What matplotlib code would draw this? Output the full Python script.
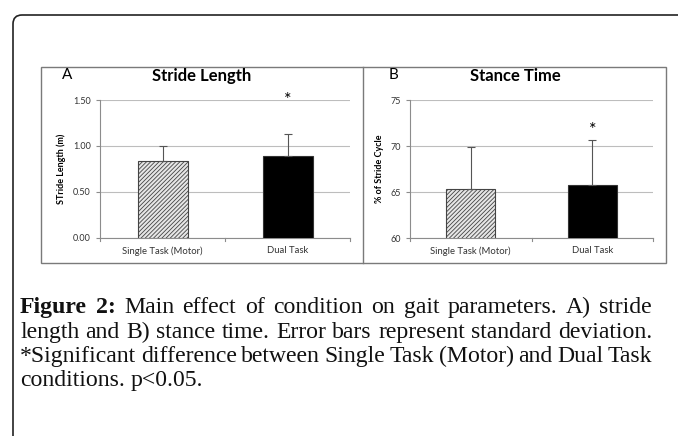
import numpy as np
import matplotlib as mpl
mpl.use('Agg')
import matplotlib.pyplot as plt
from matplotlib.patches import Rectangle, FancyBboxPatch
from matplotlib.lines import Line2D
from matplotlib.transforms import IdentityTransform

# data
conditions = ['Single Task (Motor)', 'Dual Task']
stride_mean = [0.84, 0.89]
stride_sd = [0.16, 0.24]
stance_mean = [65.3, 65.8]
stance_sd = [4.6, 4.9]
stride_star = 1.50
stance_star = 71.7

caption_lines = [
    "Figure 2: Main effect of condition on gait parameters. A) stride",
    "length and B) stance time. Error bars represent standard deviation.",
    "*Significant difference between Single Task (Motor) and Dual Task",
    "conditions. p<0.05.",
]

W, H = 678, 436
fig = plt.figure(figsize=(W / 100, H / 100), dpi=100)
mpl.rcParams['hatch.linewidth'] = 0.6
chart_font = 'Lato'
grey = '#8c8c8c'


def fx(px):
    return px / W


def fy(py):
    return 1 - py / H


# outer rounded frame (runs off the page on the right / bottom)
frame = FancyBboxPatch((13, -30), 720, H - 15 + 30, boxstyle='round,pad=0,rounding_size=9',
                       transform=IdentityTransform(), fill=False, ec='#222222', lw=1.2)
fig.add_artist(frame)

# panel border and divider
fig.add_artist(Rectangle((fx(41), fy(263)), fx(666) - fx(41), fy(67) - fy(263),
                         transform=fig.transFigure, fill=False, ec='#7a7a7a', lw=1))
fig.add_artist(Line2D([fx(363), fx(363)], [fy(263), fy(67)], transform=fig.transFigure,
                      color='#7a7a7a', lw=1))


def panel(rect, means, sds, ylim, yticks, fmt, ylabel, title, letter, star, title_x, letter_x):
    ax = fig.add_axes(rect)
    x = np.arange(len(means))
    ax.bar(x[0], means[0], width=0.4, color='#e6e6e6', edgecolor='#444444', hatch='////////', lw=0.8, zorder=3)
    ax.bar(x[1], means[1], width=0.4, color='black', edgecolor='#333333', lw=0.8, zorder=3)
    ax.errorbar(x, means, yerr=[np.zeros(2), sds], fmt='none', ecolor='#555555', elinewidth=0.8,
                capsize=3, capthick=0.8, zorder=4)
    ax.text(x[1], star, '*', ha='center', va='center', fontsize=13, fontfamily=chart_font, zorder=5)
    ax.set_xlim(-0.5, 1.5)
    ax.set_ylim(*ylim)
    ax.set_yticks(yticks)
    ax.set_yticklabels([fmt.format(v) for v in yticks], fontsize=6.5, fontfamily=chart_font, color='#333333')
    ax.set_xticks(x)
    ax.set_xticklabels(conditions, fontsize=6.8, fontfamily=chart_font, color='#333333')
    ax.tick_params(axis='x', length=0, pad=6)
    ax.tick_params(axis='y', length=3, color=grey, width=0.8)
    # category boundary ticks like Excel
    for b in [-0.5, 0.5, 1.5]:
        ax.plot([b, b], [0, -0.025], transform=ax.get_xaxis_transform(), color=grey, lw=0.8, clip_on=False)
    ax.yaxis.grid(True, color='#bdbdbd', lw=0.8)
    ax.set_axisbelow(True)
    for s in ['top', 'right']:
        ax.spines[s].set_visible(False)
    for s in ['left', 'bottom']:
        ax.spines[s].set_color(grey)
        ax.spines[s].set_linewidth(0.8)
    ax.set_ylabel(ylabel, fontsize=6.5, fontweight='bold', fontfamily=chart_font, labelpad=5)
    fig.text(fx(title_x), fy(76), title, ha='center', va='center', fontsize=12, fontweight='bold',
             fontfamily=chart_font)
    fig.text(fx(letter_x), fy(75), letter, ha='center', va='center', fontsize=11, fontfamily=chart_font)
    return ax


panel([fx(100), fy(237.7), fx(350) - fx(100), fy(100) - fy(237.7)], stride_mean, stride_sd,
      (0, 1.5), [0, 0.5, 1.0, 1.5], '{:.2f}', 'STride Length (m)', 'Stride Length', 'A',
      stride_star, 202, 67)
panel([fx(410), fy(238), fx(653) - fx(410), fy(100) - fy(238)], stance_mean, stance_sd,
      (60, 75), [60, 65, 70, 75], '{:.0f}', '% of Stride Cycle', 'Stance Time', 'B',
      stance_star, 515, 393)

# caption, justified by hand
renderer = fig.canvas.get_renderer()
cap_font = 'Liberation Serif'
x_left, x_right = 20, 652
line_y = [307, 332, 356, 380]

# size the caption so the widest line just fits with natural spacing
probe = fig.text(0, 0, caption_lines[1], fontsize=13, fontfamily=cap_font)
cap_size = 13 * (x_right - x_left) / probe.get_window_extent(renderer).width * 0.995
probe.remove()

for i, line in enumerate(caption_lines):
    words = line.split(' ')
    texts = []
    for j, w in enumerate(words):
        bold = (i == 0 and j < 2)
        t = fig.text(0, fy(line_y[i]), w, fontsize=cap_size, fontfamily=cap_font,
                     fontweight='bold' if bold else 'normal', va='center', ha='left', color='#111111')
        texts.append(t)
    widths = [t.get_window_extent(renderer).width for t in texts]
    if i < len(caption_lines) - 1:
        gap = (x_right - x_left - sum(widths)) / (len(words) - 1)
    else:
        gap = cap_size * 0.33
    xp = x_left
    for t, wd in zip(texts, widths):
        t.set_x(fx(xp))
        xp += wd + gap

fig.savefig('out.png', dpi=100)
